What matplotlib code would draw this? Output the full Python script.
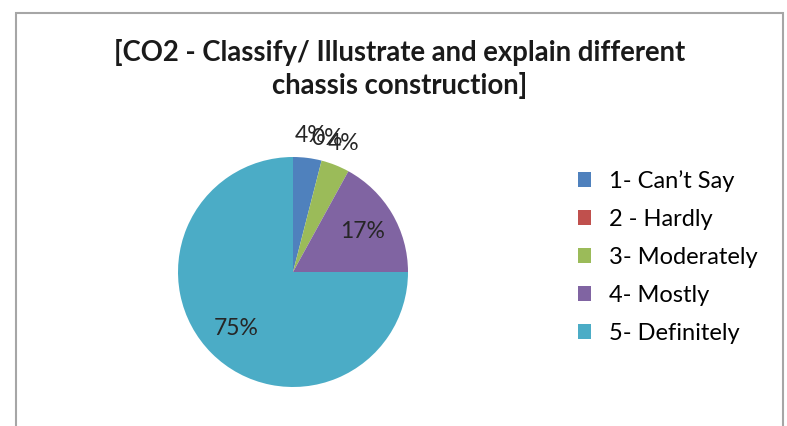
import numpy as np
import matplotlib
matplotlib.use("Agg")
import matplotlib.pyplot as plt
from matplotlib.patches import Rectangle

TITLE = "[CO2 - Classify/ Illustrate and explain different\nchassis construction]"
categories = ["1- Can\u2019t Say", "2 - Hardly", "3- Moderately", "4- Mostly", "5- Definitely"]
percents = [4, 0, 4, 17, 75]
colors = ["#4F81BD", "#C0504D", "#9BBB59", "#8064A2", "#4BACC6"]

plt.rcParams["font.family"] = ["Lato", "DejaVu Sans"]

fig = plt.figure(figsize=(7.87, 4.26), dpi=100)
fig.patch.set_facecolor("white")

# chart frame (runs off the bottom of the picture)
fig.patches.append(Rectangle((16 / 787, -0.05), (783 - 16) / 787, 1 - 13 / 426 + 0.05,
                             transform=fig.transFigure, fill=False,
                             edgecolor="#A6A6A6", linewidth=1.5))

fig.text(400 / 787, 1 - 69 / 426, TITLE, ha="center", va="center",
         fontsize=19.8, fontweight="bold", color="#1a1a1a", linespacing=1.28)

# pie: centre ~ (293, 272), radius ~ 115 px
r_px = 115
ax = fig.add_axes([(293 - r_px) / 787, 1 - (272 + r_px) / 426,
                   2 * r_px / 787, 2 * r_px / 426])
wedges, _ = ax.pie(percents, colors=colors, startangle=90, counterclock=False,
                   radius=1.0, wedgeprops=dict(linewidth=0))
ax.set_xlim(-1, 1)
ax.set_ylim(-1, 1)
ax.set_aspect("auto")
ax.axis("off")

for w, p in zip(wedges, percents):
    mid = np.deg2rad((w.theta1 + w.theta2) / 2)
    dist = 1.2 if p < 10 else 0.7
    ax.text(dist * np.cos(mid), dist * np.sin(mid), f"{p}%", ha="center",
            va="center", fontsize=16.5, color="#262626", clip_on=False)

handles = [Rectangle((0, 0), 1, 1, facecolor=c, edgecolor="none") for c in colors]
fig.legend(handles, categories, loc="center left",
           bbox_to_anchor=(578 / 787, 1 - 257 / 426), frameon=False,
           fontsize=17, handlelength=0.55, handleheight=0.55,
           handletextpad=0.75, labelspacing=0.72, borderpad=0,
           borderaxespad=0)

fig.savefig("out.png", dpi=100, facecolor="white")
